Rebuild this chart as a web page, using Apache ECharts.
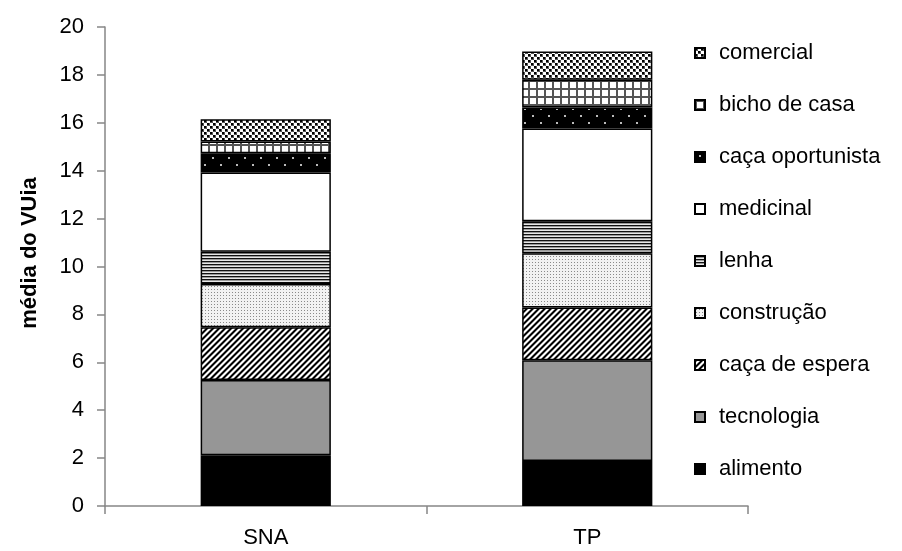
<!DOCTYPE html>
<html>
<head>
<meta charset="utf-8">
<script src="https://cdn.jsdelivr.net/npm/echarts@6/dist/echarts.min.js"></script>
<style>
html,body{margin:0;padding:0;background:#fff;}
#chart{width:902px;height:551px;}
</style>
</head>
<body>
<div id="chart"></div>
<script>
// ---- data ----
var categories = ['SNA', 'TP'];
var seriesNames = ['alimento', 'tecnologia', 'caça de espera', 'construção', 'lenha', 'medicinal', 'caça oportunista', 'bicho de casa', 'comercial'];
var alimento = [2.12, 1.88];
var tecnologia = [3.14, 4.21];
var cacaEspera = [2.20, 2.20];
var construcao = [1.81, 2.26];
var lenha = [1.35, 1.34];
var medicinal = [3.30, 3.87];
var cacaOportunista = [0.81, 0.88];
var bichoCasa = [0.49, 1.16];
var comercial = [0.93, 1.18];
var yTicks = [0, 2, 4, 6, 8, 10, 12, 14, 16, 18, 20];

// ---- pattern helpers (styling only) ----
function tile(w, h, draw) {
  var c = document.createElement('canvas');
  c.width = w; c.height = h;
  var ctx = c.getContext('2d');
  draw(ctx, w, h);
  return { image: c, repeat: 'repeat' };
}
function px(ctx, x, y, col) { ctx.fillStyle = col; ctx.fillRect(x, y, 1, 1); }

var patDiag = tile(6, 6, function (ctx, w, h) {
  for (var y = 0; y < h; y++) for (var x = 0; x < w; x++) {
    var k = (x + y) % 6;
    px(ctx, x, y, k < 2 ? '#000' : (k === 2 || k === 5 ? '#888' : '#fff'));
  }
});
var patDots = tile(3, 3, function (ctx, w, h) {
  ctx.fillStyle = '#f2f2f2'; ctx.fillRect(0, 0, w, h);
  px(ctx, 1, 1, '#8a8a8a');
});
var patHoriz = tile(4, 3, function (ctx, w, h) {
  ctx.fillStyle = '#111'; ctx.fillRect(0, 0, w, 1);
  ctx.fillStyle = '#9a9a9a'; ctx.fillRect(0, 1, w, 1);
  ctx.fillStyle = '#e8e8e8'; ctx.fillRect(0, 2, w, 1);
});
var patSparse = tile(16, 14, function (ctx, w, h) {
  ctx.fillStyle = '#000'; ctx.fillRect(0, 0, w, h);
  ctx.fillStyle = '#bbb'; ctx.fillRect(4, 3, 2, 2); ctx.fillRect(12, 10, 2, 2);
});
var patGrid = tile(8, 8, function (ctx, w, h) {
  ctx.fillStyle = '#fff'; ctx.fillRect(0, 0, w, h);
  ctx.fillStyle = '#555'; ctx.fillRect(0, 0, 2, h); ctx.fillRect(0, 0, w, 2);
});
var patCheck = tile(6, 6, function (ctx, w, h) {
  ctx.fillStyle = '#fff'; ctx.fillRect(0, 0, w, h);
  ctx.fillStyle = '#555'; ctx.fillRect(0, 0, 3, 3); ctx.fillRect(3, 3, 3, 3);
  ctx.fillStyle = '#000'; ctx.fillRect(0, 0, 2, 2); ctx.fillRect(3, 3, 2, 2);
});

var seriesData = [alimento, tecnologia, cacaEspera, construcao, lenha, medicinal, cacaOportunista, bichoCasa, comercial];
var fills = ['#000000', '#969696', patDiag, patDots, patHoriz, '#ffffff', patSparse, patGrid, patCheck];

var series = seriesNames.map(function (name, i) {
  return {
    name: name,
    type: 'bar',
    stack: 'total',
    barWidth: '40.5%',
    data: seriesData[i],
    itemStyle: { color: fills[i], borderColor: '#000', borderWidth: 1.5 },
    emphasis: { disabled: true }
  };
});

var FONT = 'Liberation Sans, Arial, sans-serif';
var chart = echarts.init(document.getElementById('chart'), null, { renderer: 'canvas' });
chart.setOption({
  animation: false,
  backgroundColor: '#fff',
  grid: { left: 105, right: 154, top: 27, bottom: 45, containLabel: false },
  legend: {
    orient: 'vertical',
    left: 689,
    top: 37,
    itemWidth: 10,
    itemHeight: 10,
    itemGap: 30,
    icon: 'rect',
    data: seriesNames.slice().reverse(),
    textStyle: { fontFamily: FONT, fontSize: 22, color: '#000', padding: [0, 0, 0, 9] },
    selectedMode: false
  },
  xAxis: {
    type: 'category',
    data: categories,
    axisLine: { lineStyle: { color: '#868686', width: 1.5 } },
    axisTick: { show: true, length: 8, lineStyle: { color: '#868686', width: 1.5 } },
    axisLabel: { fontFamily: FONT, fontSize: 22, color: '#000', margin: 21 }
  },
  yAxis: {
    type: 'value',
    min: yTicks[0],
    max: yTicks[yTicks.length - 1],
    interval: 2,
    name: 'média do VUia',
    nameLocation: 'middle',
    nameGap: 64,
    nameTextStyle: { fontFamily: FONT, fontSize: 22, fontWeight: 'bold', color: '#000', padding: [0, 0, 0, 27] },
    axisLine: { show: true, lineStyle: { color: '#868686', width: 1.5 } },
    axisTick: { show: true, length: 8, lineStyle: { color: '#868686', width: 1.5 } },
    axisLabel: { fontFamily: FONT, fontSize: 22, color: '#000', margin: 21 },
    splitLine: { show: false }
  },
  series: series
});
</script>
</body>
</html>
